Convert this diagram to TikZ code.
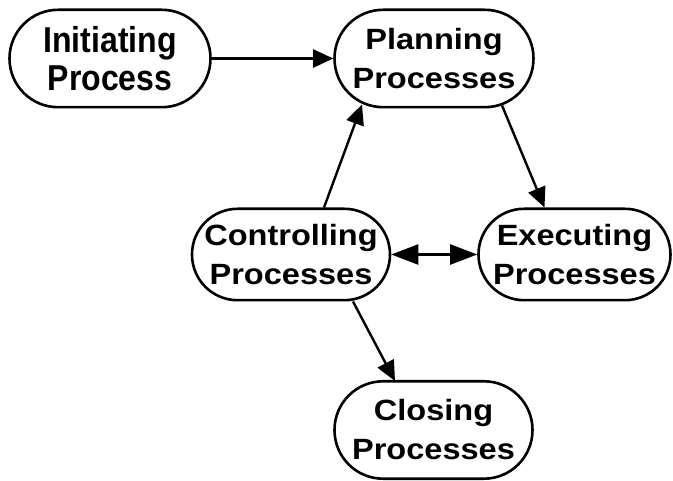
\documentclass[tikz,border=0pt]{standalone}
\usepackage{fontspec}
\setmainfont{Liberation Sans}[FakeStretch=1.11]
\newfontfamily\initfont{Liberation Sans}[FakeStretch=0.89]
\usetikzlibrary{arrows.meta,calc}
\tikzset{
  procbox/.style={draw=black, line width=2.6pt, fill=white, rounded corners=#1, inner sep=0pt, align=center},
  mainfont/.style={font=\bfseries\fontsize{29.3}{39}\selectfont},
  initfontstyle/.style={font=\initfont\bfseries\fontsize{36}{38}\selectfont},
  conn/.style={line width=2.4pt, -{Triangle[length=20pt,width=18pt]}},
  dconn/.style={line width=2.4pt, {Triangle[length=27pt,width=20pt]}-{Triangle[length=27pt,width=20pt]}}
}
\begin{document}
\begin{tikzpicture}[x=1pt,y=-1pt]
\useasboundingbox (0,0) rectangle (673,481);
\node[procbox=48.6pt, initfontstyle, minimum width=201pt, minimum height=97.4pt] (init) at (110,58.5) {Initiating\\Process};
\node[procbox=48.6pt, mainfont, minimum width=199pt, minimum height=97.4pt] (plan) at (434,58.5) {Planning\\Processes};
\node[procbox=45.6pt, mainfont, minimum width=198pt, minimum height=91.4pt] (ctrl) at (291,254.5) {Controlling\\Processes};
\node[procbox=45.6pt, mainfont, minimum width=192pt, minimum height=91.4pt] (exec) at (574.5,254.5) {Executing\\Processes};
\node[procbox=48.6pt, mainfont, minimum width=198pt, minimum height=97.4pt] (close) at (433.5,430) {Closing\\Processes};
\draw[conn] (init) -- (plan);
\draw[conn] ($(ctrl.center)+(33,-47)$) -- ($(plan.center)+(-72,46)$);
\draw[conn] ($(plan.center)+(68,47)$) -- ($(exec.center)+(-30,-47)$);
\draw[dconn] (ctrl) -- (exec);
\draw[conn] ($(ctrl.center)+(62,47)$) -- ($(close.center)+(-38.5,-49)$);
\end{tikzpicture}
\end{document}
